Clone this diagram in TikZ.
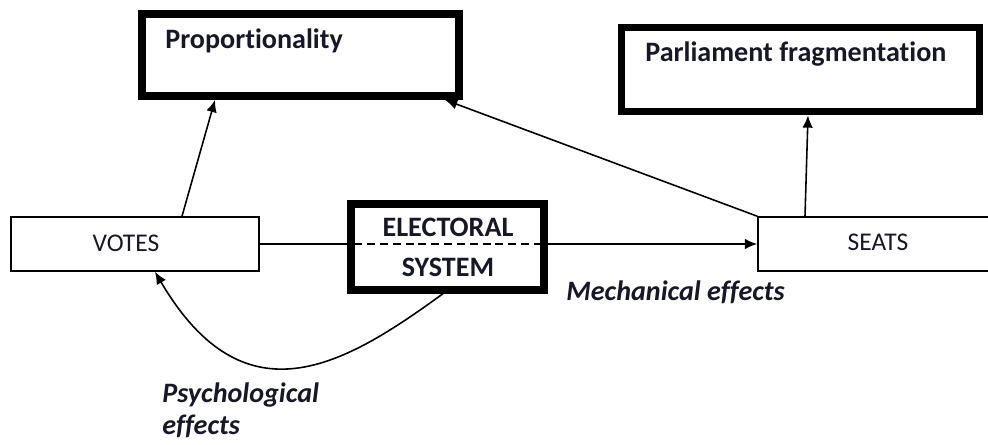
\documentclass[tikz,border=0pt]{standalone}
\usepackage{fontspec}
\setmainfont{Carlito}[Ligatures=NoCommon]
\usetikzlibrary{arrows.meta}
\definecolor{txt}{RGB}{22,24,40}
\begin{document}
\begin{tikzpicture}[x=0.02cm,y=-0.02cm,
  thickbox/.style={draw, line width=4.4pt, inner sep=0pt},
  thinbox/.style={draw, line width=0.9pt, inner sep=0pt},
  lbl/.style={text=txt, inner sep=0pt},
  bfont/.style={font=\fontsize{16}{18}\selectfont\bfseries},
  ifont/.style={font=\fontsize{16}{18}\selectfont\bfseries\itshape},
  arr/.style={line width=0.9pt, -{Latex[length=7pt,width=6pt]}},
  conn/.style={line width=0.9pt}]
\useasboundingbox (0,0) rectangle (988,445);
% boxes
\node[thickbox, minimum width=6.34cm, minimum height=1.64cm] (prop) at (300.5,55) {};
\node[thickbox, minimum width=7.16cm, minimum height=1.68cm] (parl) at (800.5,69.5) {};
\node[thickbox, line width=4.2pt, minimum width=3.86cm, minimum height=1.72cm] (elec) at (447.5,247) {};
\node[thinbox, minimum width=4.96cm, minimum height=1.08cm] (votes) at (135,244) {};
\node[thinbox, minimum width=4.84cm, minimum height=1.08cm] (seats) at (879,244) {};
% texts
\node[lbl, bfont, anchor=base west] (tprop) at (165,49) {Proportionality};
\node[lbl, bfont, anchor=base west] (tparl) at (645,62) {Parliament fragmentation};
\node[lbl, anchor=base, font=\fontsize{14.5}{16}\selectfont] (tvotes) at (126,252) {VOTES};
\node[lbl, anchor=base, font=\fontsize{14.5}{16}\selectfont] (tseats) at (878,251) {SEATS};
\node[lbl, bfont, anchor=base] (telec) at (448,237) {ELECTORAL};
\node[lbl, bfont, anchor=base] (tsys) at (448,277) {SYSTEM};
\node[lbl, ifont, anchor=base west] (tmech) at (566,301) {Mechanical effects};
\node[lbl, ifont, anchor=base west] (tpsy1) at (162,403) {Psychological};
\node[lbl, ifont, anchor=base west] (tpsy2) at (162,435) {effects};
% connectors
\draw[conn] (votes.east) -- (votes.east -| elec.west);
\draw[conn, dash pattern=on 4.5pt off 2.8pt] ([xshift=4pt]votes.east -| elec.west) -- ([xshift=-4pt]votes.east -| elec.east);
\draw[arr] (votes.east -| elec.east) -- (seats.west);
\draw[arr] (182,0 |- votes.north) -- (215,0 |- prop.south);
\draw[arr] (seats.north west) -- (445,0 |- prop.south);
\draw[arr] (805,0 |- seats.north) -- (808,0 |- parl.south);
\draw[arr] (443,0 |- elec.south) .. controls (345,365) and (245,425) .. (155,0 |- votes.south);
\end{tikzpicture}
\end{document}
